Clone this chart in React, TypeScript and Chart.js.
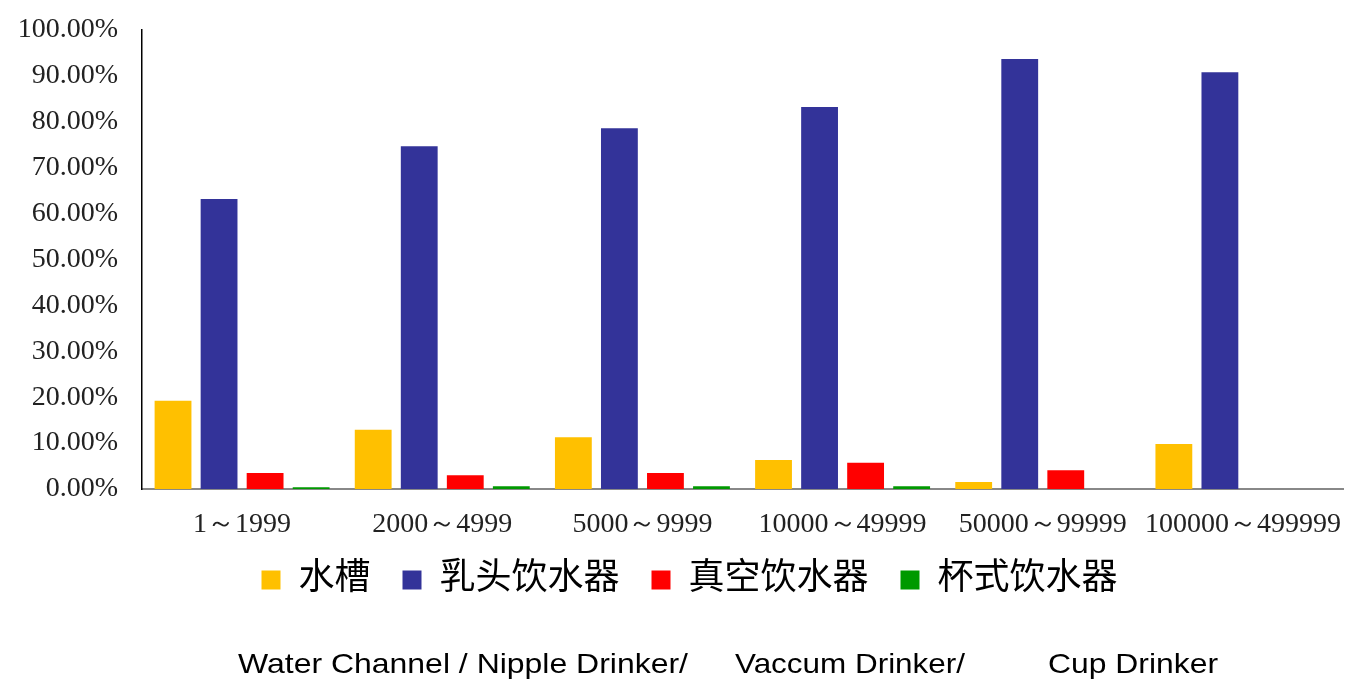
import React, { useEffect, useRef } from "react";
import { Chart, registerables } from "chart.js";

Chart.register(...registerables);

const categories = ["1～1999", "2000～4999", "5000～9999", "10000～49999", "50000～99999", "100000～499999"];
const seriesNames = ["水槽", "乳头饮水器", "真空饮水器", "杯式饮水器"];
const waterTrough = [19.2, 12.9, 11.3, 6.3, 1.5, 9.8];
const nippleDrinker = [63.2, 74.7, 78.6, 83.2, 93.7, 90.8];
const vacuumDrinker = [3.5, 3.0, 3.5, 5.7, 4.1, 0];
const cupDrinker = [0.4, 0.6, 0.6, 0.6, 0, 0];
const seriesColors = ["#FFC000", "#333399", "#FF0000", "#009900"];
const yTicks = { min: 0, max: 100, step: 10 };
const footerTexts = ["Water Channel / Nipple Drinker/", "Vaccum Drinker/", "Cup Drinker"];

const footerPlugin = {
  id: "footerText",
  afterDraw(chart: any) {
    const ctx = chart.ctx;
    ctx.save();
    ctx.fillStyle = "#000";
    ctx.font = '28px "Liberation Sans", Arial, sans-serif';
    ctx.textBaseline = "alphabetic";
    ctx.textAlign = "left";
    const spans = [
      [238, 688],
      [735, 965],
      [1048, 1218],
    ];
    const y = chart.height - 9;
    footerTexts.forEach((t, i) => {
      const w = ctx.measureText(t).width;
      const target = spans[i][1] - spans[i][0];
      const sx = target / w;
      ctx.save();
      ctx.translate(spans[i][0], y);
      ctx.scale(sx, 1);
      ctx.fillText(t, 0, 0);
      ctx.restore();
    });
    ctx.restore();
  },
};

const legendShiftPlugin = {
  id: "legendShift",
  afterLayout(chart: any) {
    const lg = chart.legend;
    if (!lg) return;
    lg.top -= 12;
    lg.bottom -= 12;
    lg.left += 18;
    lg.right += 18;
  },
};

export default function App() {
  const ref = useRef<HTMLCanvasElement | null>(null);
  useEffect(() => {
    if (!ref.current) return;
    const data = [waterTrough, nippleDrinker, vacuumDrinker, cupDrinker];
    const chart = new Chart(ref.current, {
      type: "bar",
      data: {
        labels: categories,
        datasets: seriesNames.map((name, i) => ({
          label: name,
          data: data[i],
          backgroundColor: seriesColors[i],
          borderWidth: 0,
          categoryPercentage: 0.92,
          barPercentage: 0.8,
        })),
      },
      options: {
        animation: false,
        responsive: true,
        maintainAspectRatio: false,
        layout: { padding: { top: 30, left: 0, right: 5, bottom: 62 } },
        plugins: {
          tooltip: { enabled: false },
          title: { display: false },
          legend: {
            display: true,
            position: "bottom",
            labels: {
              boxWidth: 19,
              boxHeight: 19,
              padding: 32,
              color: "#000",
              font: { family: '"Liberation Serif", "Noto Sans CJK SC", serif', size: 36 },
            },
          },
        },
        scales: {
          x: {
            afterFit: (scale: any) => {
              scale.height = 53;
              scale.paddingLeft = 0;
              scale.paddingRight = 0;
            },
            grid: { display: false, drawTicks: false },
            border: { display: true, color: "#888888", width: 2 },
            ticks: {
              color: "#222",
              padding: 19,
              maxRotation: 0,
              autoSkip: false,
              font: { family: '"Liberation Serif", serif', size: 28 },
            },
          },
          y: {
            min: yTicks.min,
            max: yTicks.max,
            afterFit: (scale: any) => {
              scale.width = 142;
              scale.paddingTop = 0;
              scale.paddingBottom = 0;
            },
            grid: { display: false, drawTicks: false },
            border: { display: true, color: "#000", width: 1.5 },
            ticks: {
              stepSize: yTicks.step,
              color: "#222",
              padding: 24,
              font: { family: '"Liberation Serif", serif', size: 28 },
              callback: (v: any) => Number(v).toFixed(2) + "%",
            },
          },
        },
      },
      plugins: [legendShiftPlugin, footerPlugin],
    });
    return () => chart.destroy();
  }, []);
  return (
    <div style={{ position: "absolute", left: 0, top: 0, width: 1348, height: 682 }}>
      <canvas ref={ref} />
    </div>
  );
}
